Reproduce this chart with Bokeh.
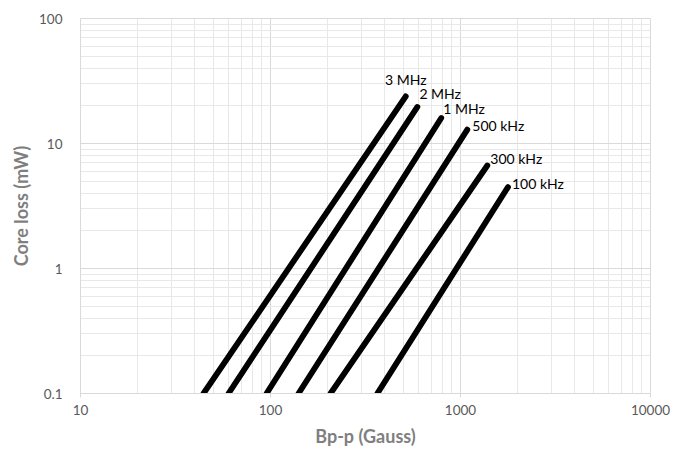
from bokeh.plotting import figure
from bokeh.models import Range1d, FixedTicker, NumeralTickFormatter, Label
from bokeh.embed import file_html
from bokeh.resources import INLINE

# ---- data ----
freq_labels = ["3 MHz", "2 MHz", "1 MHz", "500 kHz", "300 kHz", "100 kHz"]
b_start = [44.4, 60.1, 95.3, 140.4, 207.0, 365.0]
loss_start = [0.1, 0.1, 0.1, 0.1, 0.1, 0.1]
b_end = [515.0, 593.0, 792.0, 1086.0, 1384.0, 1778.0]
loss_end = [23.8, 19.6, 16.0, 12.9, 6.67, 4.48]

x_ticks = [10, 100, 1000, 10000]
y_ticks = [0.1, 1, 10, 100]

# label placement (style): x_offset, y_offset, align
label_style = {
    "3 MHz": (0, 16.5, "center"),
    "2 MHz": (2, 13.5, "left"),
    "1 MHz": (2, 9.5, "left"),
    "500 kHz": (5, 4, "left"),
    "300 kHz": (3, 6.5, "left"),
    "100 kHz": (4, 3.8, "left"),
}

FONT = "Lato"
GRID_MAJOR = "#d9d9d9"
GRID_MINOR = "#e8e8e8"

p = figure(
    width=673, height=449,
    x_axis_type="log", y_axis_type="log",
    x_range=Range1d(x_ticks[0], x_ticks[-1]),
    y_range=Range1d(y_ticks[0], y_ticks[-1]),
    output_backend="svg", toolbar_location=None,
    min_border_left=80, min_border_right=23,
    min_border_top=18, min_border_bottom=56,
)
p.outline_line_color = GRID_MAJOR
p.background_fill_color = "white"
p.border_fill_color = "white"

x_minor = [m * t for t in x_ticks[:-1] for m in range(2, 10)]
y_minor = [m * t for t in y_ticks[:-1] for m in range(2, 10)]
p.xaxis.ticker = FixedTicker(ticks=x_ticks, minor_ticks=x_minor)
p.yaxis.ticker = FixedTicker(ticks=y_ticks, minor_ticks=y_minor)
p.xaxis.formatter = NumeralTickFormatter(format="0")
p.yaxis.formatter = NumeralTickFormatter(format="0.[0]")

for g in (p.xgrid, p.ygrid):
    g.grid_line_color = GRID_MAJOR
    g.grid_line_width = 1
    g.minor_grid_line_color = GRID_MINOR
    g.minor_grid_line_width = 1

for ax in (p.xaxis, p.yaxis):
    ax.axis_line_color = GRID_MAJOR
    ax.minor_tick_line_color = None
    ax.major_label_text_font = FONT
    ax.major_label_text_font_size = "13.5px"
    ax.major_label_text_color = "#595959"
    ax.axis_label_text_font = FONT
    ax.axis_label_text_font_size = "18px"
    ax.axis_label_text_font_style = "bold"
    ax.axis_label_text_color = "#7f7f7f"

p.xaxis.major_tick_line_color = GRID_MAJOR
p.xaxis.major_tick_out = 4
p.xaxis.major_tick_in = 0
p.xaxis.major_label_standoff = 7
p.xaxis.axis_label = "Bp-p (Gauss)"
p.xaxis.axis_label_standoff = 7

p.yaxis.major_tick_line_color = None
p.yaxis.major_tick_out = 0
p.yaxis.major_tick_in = 0
p.yaxis.major_label_standoff = 14
p.yaxis.axis_label = "Core loss (mW)"
p.yaxis.axis_label_standoff = 4

for lbl, x0, y0, x1, y1 in zip(freq_labels, b_start, loss_start, b_end, loss_end):
    p.line([x0, x1], [y0, y1], line_color="black", line_width=5.8,
           line_cap="round", line_join="round")
    dx, dy, align = label_style[lbl]
    p.add_layout(Label(
        x=x1, y=y1, text=lbl, x_offset=dx, y_offset=dy,
        text_align=align, text_baseline="alphabetic",
        text_font=FONT, text_font_size="14px", text_color="black",
    ))

open("out.html", "w").write(file_html(p, INLINE))
